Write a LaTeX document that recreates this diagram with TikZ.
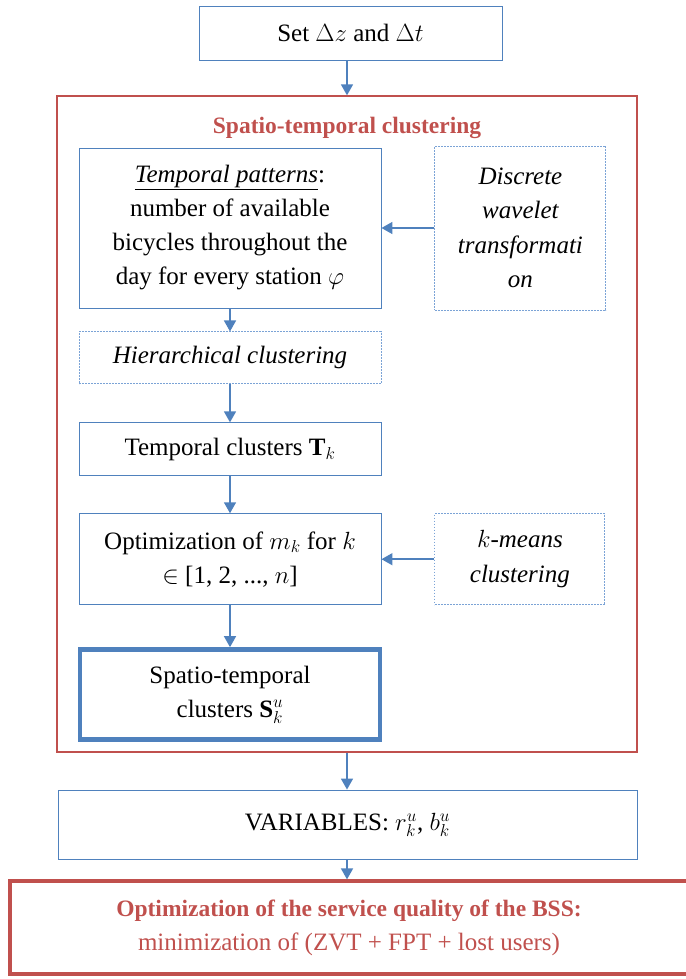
\documentclass[tikz,border=0pt]{standalone}
\usepackage{fontspec}
\setmainfont{Liberation Serif}
\usetikzlibrary{shapes,arrows.meta,positioning,calc}
\definecolor{boxblue}{HTML}{4F81BD}
\definecolor{dotblue}{HTML}{7BA3D6}
\definecolor{boxred}{HTML}{C0504D}

\begin{document}
\begin{tikzpicture}[
    x=1pt, y=-1pt,
    every node/.style={font=\fontsize{25}{34}\selectfont},
    action/.style={rectangle, draw=boxblue, line width=0.9pt, align=center, minimum width=302pt, inner sep=0pt},
    method/.style={action, draw=dotblue, dash pattern=on 1.6pt off 1.4pt, font=\fontsize{25}{34.5}\selectfont\itshape},
    arrow/.style={-{Triangle[width=12pt,length=11pt]}, draw=boxblue, line width=1.6pt}
]
\useasboundingbox (0,0) rectangle (685,979);

% Outer boxes
\node[action, minimum width=303pt, minimum height=54pt] (set) at (350.5,33) {Set $\Delta z$ and $\Delta t$};
\node[rectangle, draw=boxred, line width=1.3pt, minimum width=580pt, minimum height=656pt] (stbox) at (347,424) {};
\node[text=boxred, font=\fontsize{23.5}{26}\selectfont\bfseries] (title) at (347,128) {Spatio-temporal clustering};

% Flow
\node[action, minimum height=160pt] (tpat) at (230,228) {\underline{\textit{Temporal patterns}}:\\number of available\\bicycles throughout the\\day for every station $\varphi$};
\node[method, minimum width=171pt, minimum height=164pt, right=53pt of tpat] (dwt) {Discrete\\wavelet\\transformati\\on};
\node[method, minimum height=52pt, below=23pt of tpat] (hier) {Hierarchical clustering};
\node[action, minimum height=53pt, below=38pt of hier] (tclus) {Temporal clusters $\mathbf{T}_k$};
\node[action, minimum height=91pt, below=37pt of tclus] (optm) {Optimization of $m_k$ for $k$\\$\in$ [1, 2, ..., $n$]};
\node[method, minimum width=170pt, minimum height=91pt, right=53pt of optm] (kmeans) {$k$-means\\clustering};
\node[action, line width=4.5pt, minimum width=300pt, minimum height=90pt, below=42pt of optm] (stclus) {Spatio-temporal\\clusters $\mathbf{S}_k^u$};

\node[action, minimum width=579pt, minimum height=69pt] (vars) at (347.5,824.5) {VARIABLES: $r_k^u$, $b_k^u$};
\node[rectangle, draw=boxred, line width=3.2pt, minimum width=690pt, minimum height=93pt, align=center, text=boxred] (qual) at (355,927.5)
    {\hspace*{-12pt}{\fontsize{23.5}{34}\selectfont\bfseries Optimization of the service quality of the BSS:}\\\hspace*{-12pt}minimization of (ZVT + FPT + lost users)};

% Arrows
\draw[arrow] (set.south -| stbox.north) -- (stbox.north);
\draw[arrow] (dwt) -- (tpat);
\draw[arrow] (tpat) -- (hier);
\draw[arrow] (hier) -- (tclus);
\draw[arrow] (tclus) -- (optm);
\draw[arrow] (kmeans) -- (optm);
\draw[arrow] (optm) -- (stclus);
\draw[arrow] (stbox.south) -- (stbox.south |- vars.north);
\draw[arrow] (vars.south -| stbox.south) -- (stbox.south |- qual.north);

\end{tikzpicture}
\end{document}
